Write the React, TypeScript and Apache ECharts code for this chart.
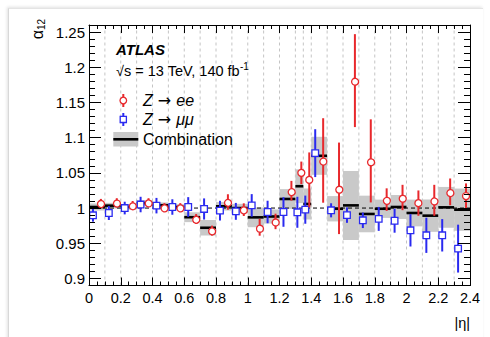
import React, { useEffect, useRef } from 'react';
import * as echarts from 'echarts';

// Bin edges in |eta|
const binLo = [0, 0.1, 0.2, 0.3, 0.4, 0.5, 0.6, 0.7, 0.8, 0.9, 1.0, 1.1, 1.2, 1.3, 1.35, 1.4, 1.5, 1.6, 1.7, 1.8, 1.9, 2.0, 2.1, 2.2, 2.3];
const binHi = [0.1, 0.2, 0.3, 0.4, 0.5, 0.6, 0.7, 0.8, 0.9, 1.0, 1.1, 1.2, 1.3, 1.35, 1.4, 1.5, 1.6, 1.7, 1.8, 1.9, 2.0, 2.1, 2.2, 2.3, 2.4];

// Z -> ee
const eeVal = [1.007, 1.008, 1.004, 1.008, 1.001, 1.001, 0.9845, 0.968, 1.0086, 0.9977, 0.9727, 0.981, 1.0246, 1.050, 1.040, 1.0676, 1.028, 1.181, 1.067, 1.012, 1.015, 1.007, 1.011, 1.023, 1.017];
const eeErr = [0.006, 0.006, 0.006, 0.006, 0.006, 0.006, 0.007, 0.007, 0.011, 0.009, 0.012, 0.011, 0.014, 0.016, 0.039, 0.06, 0.065, 0.066, 0.059, 0.016, 0.018, 0.018, 0.022, 0.019, 0.018];

// Z -> mumu
const mmVal = [0.9897, 0.993, 1.0, 1.005, 1.0034, 1.0015, 1.0015, 0.9987, 0.9963, 0.9953, 1.0038, 0.9944, 0.9944, 0.994, 0.9977, 1.078, 0.9968, 0.990, 0.9826, 0.9846, 0.982, 0.9684, 0.9613, 0.9613, 0.9424];
const mmErr = [0.009, 0.010, 0.009, 0.011, 0.011, 0.011, 0.014, 0.015, 0.014, 0.012, 0.016, 0.016, 0.021, 0.022, 0.02, 0.034, 0.01, 0.011, 0.011, 0.017, 0.017, 0.023, 0.025, 0.023, 0.034];

// Combination
const combVal = [1.0015, 1.0034, 1.0015, 1.007, 1.004, 1.0015, 0.987, 0.972, 1.0025, 1.0, 0.9868, 0.988, 1.0129, 1.031, 1.0058, 1.0742, 0.999, 1.0038, 0.9916, 0.999, 1.0015, 0.993, 0.9892, 1.001, 0.9977];
const combErr = [0.005, 0.004, 0.004, 0.004, 0.004, 0.004, 0.007, 0.011, 0.006, 0.006, 0.014, 0.01, 0.014, 0.024, 0.022, 0.027, 0.018, 0.049, 0.026, 0.013, 0.017, 0.019, 0.023, 0.029, 0.03];

const xTickValues = [0, 0.2, 0.4, 0.6, 0.8, 1, 1.2, 1.4, 1.6, 1.8, 2, 2.2, 2.4];
const xTickLabels = ['0', '0.2', '0.4', '0.6', '0.8', '1', '1.2', '1.4', '1.6', '1.8', '2', '2.2', '2.4'];
const yTickValues = [0.9, 0.95, 1, 1.05, 1.1, 1.15, 1.2, 1.25];
const yTickLabels = ['0.9', '0.95', '1', '1.05', '1.1', '1.15', '1.2', '1.25'];

const X_MIN = 0, X_MAX = 2.4, Y_MIN = 0.89, Y_MAX = 1.26;
const RED = '#e8282c';
const BLUE = '#2a2af0';
const GRAY = '#c9c9c9';
const FONT = '"Liberation Sans", Arial, Helvetica, sans-serif';
const SYMFONT = '"DejaVu Sans", sans-serif';

function lookup(values: number[], labels: string[], v: number) {
  for (let i = 0; i < values.length; i++) {
    if (Math.abs(values[i] - v) < 1e-6) return labels[i];
  }
  return '';
}

function binData(vals: number[], errs: number[]) {
  return vals.map((v, i) => [binLo[i], binHi[i], v, errs[i]]);
}

function pointSeries(name: string, vals: number[], errs: number[], color: string, marker: 'circle' | 'square', sign: number, z: number) {
  return {
    type: 'custom',
    name,
    z,
    silent: true,
    data: binData(vals, errs),
    encode: { x: [0, 1], y: 2 },
    renderItem: (params: any, api: any) => {
      const lo = api.value(0), hi = api.value(1), v = api.value(2), e = api.value(3);
      const xc = (lo + hi) / 2 + sign * (hi - lo) / 4;
      const top = api.coord([xc, v + e]);
      const bot = api.coord([xc, v - e]);
      const c = api.coord([xc, v]);
      const m = marker === 'circle'
        ? { type: 'circle', shape: { cx: c[0], cy: c[1], r: 3.5 }, style: { fill: '#fff', stroke: color, lineWidth: 1.3 } }
        : { type: 'rect', shape: { x: c[0] - 3.3, y: c[1] - 3.3, width: 6.6, height: 6.6 }, style: { fill: '#fff', stroke: color, lineWidth: 1.3 } };
      return {
        type: 'group',
        children: [
          { type: 'line', shape: { x1: top[0], y1: top[1], x2: bot[0], y2: bot[1] }, style: { stroke: color, lineWidth: 2 } },
          m,
        ],
      };
    },
  };
}

function makeXAxis(position: 'bottom' | 'top', showLabel: boolean) {
  return {
    type: 'value',
    position,
    min: X_MIN,
    max: X_MAX,
    interval: 0.2,
    z: 10,
    axisLine: { show: true, onZero: false, lineStyle: { color: '#000', width: 1 } },
    axisTick: { show: true, inside: true, length: 8, lineStyle: { color: '#000', width: 1 } },
    minorTick: { show: true, splitNumber: 4, length: 4, lineStyle: { color: '#000', width: 1 } },
    splitLine: { show: false },
    minorSplitLine: { show: false },
    axisLabel: {
      show: showLabel,
      fontSize: 14.5,
      fontFamily: FONT,
      color: '#000',
      margin: 5,
      formatter: (v: number) => lookup(xTickValues, xTickLabels, v),
    },
  };
}

function makeYAxis(position: 'left' | 'right', showLabel: boolean) {
  return {
    type: 'value',
    position,
    min: Y_MIN,
    max: Y_MAX,
    splitNumber: 7,
    z: 10,
    axisLine: { show: true, onZero: false, lineStyle: { color: '#000', width: 1 } },
    axisTick: { show: true, inside: true, length: 12, lineStyle: { color: '#000', width: 1 } },
    minorTick: { show: true, splitNumber: 5, length: 6, lineStyle: { color: '#000', width: 1 } },
    splitLine: { show: false },
    minorSplitLine: { show: false },
    axisLabel: {
      show: showLabel,
      fontSize: 15,
      fontFamily: FONT,
      color: '#000',
      margin: 4,
      formatter: (v: number) => lookup(yTickValues, yTickLabels, v),
    },
  };
}

export default function App() {
  const ref = useRef<HTMLDivElement>(null);

  useEffect(() => {
    if (!ref.current) return;
    const chart = echarts.init(ref.current, null, { renderer: 'svg' });

    const innerEdges = binHi.slice(0, binHi.length - 1).map((x) => [x]);

    const legendRich = {
      i: { fontSize: 16, fontStyle: 'italic', fontFamily: FONT, fill: '#000' },
      n: { fontSize: 16, fontFamily: SYMFONT, fill: '#000' },
    };

    const option: any = {
      animation: false,
      backgroundColor: 'transparent',
      grid: { left: 89, right: 20, top: 25, bottom: 51.5, outerBoundsMode: 'none' },
      xAxis: [makeXAxis('bottom', true), makeXAxis('top', false)],
      yAxis: [makeYAxis('left', true), makeYAxis('right', false)],
      series: [
        {
          type: 'custom',
          name: 'edges',
          z: 1,
          silent: true,
          data: innerEdges,
          encode: { x: 0 },
          renderItem: (params: any, api: any) => {
            const x = api.value(0);
            const a = api.coord([x, Y_MIN]);
            const b = api.coord([x, Y_MAX]);
            return { type: 'line', shape: { x1: a[0], y1: a[1], x2: b[0], y2: b[1] }, style: { stroke: '#c4c4c4', lineWidth: 1, lineDash: [3, 3] } };
          },
        },
        {
          type: 'custom',
          name: 'combBand',
          z: 2,
          silent: true,
          data: binData(combVal, combErr),
          encode: { x: [0, 1], y: 2 },
          renderItem: (params: any, api: any) => {
            const lo = api.value(0), hi = api.value(1), v = api.value(2), e = api.value(3);
            const a = api.coord([lo, v + e]);
            const b = api.coord([hi, v - e]);
            return { type: 'rect', shape: { x: a[0], y: a[1], width: b[0] - a[0], height: b[1] - a[1] }, style: { fill: GRAY } };
          },
        },
        {
          type: 'custom',
          name: 'unity',
          z: 3,
          silent: true,
          data: [[X_MIN, X_MAX, 1]],
          encode: { x: [0, 1], y: 2 },
          renderItem: (params: any, api: any) => {
            const a = api.coord([api.value(0), api.value(2)]);
            const b = api.coord([api.value(1), api.value(2)]);
            return { type: 'line', shape: { x1: a[0], y1: a[1], x2: b[0], y2: b[1] }, style: { stroke: '#000', lineWidth: 1, lineDash: [4, 3] } };
          },
        },
        {
          type: 'custom',
          name: 'Combination',
          z: 4,
          silent: true,
          data: binData(combVal, combErr),
          encode: { x: [0, 1], y: 2 },
          renderItem: (params: any, api: any) => {
            const lo = api.value(0), hi = api.value(1), v = api.value(2);
            const a = api.coord([lo, v]);
            const b = api.coord([hi, v]);
            return { type: 'line', shape: { x1: a[0], y1: a[1], x2: b[0], y2: b[1] }, style: { stroke: '#000', lineWidth: 2.6 } };
          },
        },
        pointSeries('Z → μμ', mmVal, mmErr, BLUE, 'square', -1, 5),
        pointSeries('Z → ee', eeVal, eeErr, RED, 'circle', 1, 6),
      ],
      graphic: [
        {
          type: 'text', x: 37, y: 29, rotation: Math.PI / 2, z: 20,
          style: {
            text: '{a|α}{s|12}', align: 'center', verticalAlign: 'middle', fill: '#000',
            rich: {
              a: { fontSize: 16, fontFamily: FONT, lineHeight: 18, fill: '#000' },
              s: { fontSize: 10, fontFamily: FONT, lineHeight: 10, verticalAlign: 'bottom', fill: '#000' },
            },
          },
        },
        {
          type: 'text', x: 470, y: 323, z: 20,
          style: { text: '|η|', fontSize: 14.5, fontFamily: FONT, fill: '#000', align: 'right', verticalAlign: 'middle' },
        },
        {
          type: 'text', x: 116, y: 49, z: 20,
          style: { text: 'ATLAS', fontSize: 15, fontWeight: 'bold', fontStyle: 'italic', fontFamily: FONT, fill: '#000', align: 'left', verticalAlign: 'middle' },
        },
        {
          type: 'text', x: 116, y: 71, z: 20,
          style: {
            text: '{n|√s = 13 TeV, 140 fb}{sup|-1}', align: 'left', verticalAlign: 'middle', fill: '#000',
            rich: {
              n: { fontSize: 14.5, fontFamily: FONT, lineHeight: 20, fill: '#000' },
              sup: { fontSize: 10, fontFamily: FONT, lineHeight: 10, verticalAlign: 'top', fill: '#000' },
            },
          },
        },
        // legend: Z -> ee
        { type: 'line', z: 20, shape: { x1: 123.3, y1: 94, x2: 123.3, y2: 107 }, style: { stroke: RED, lineWidth: 2 } },
        { type: 'circle', z: 21, shape: { cx: 123.3, cy: 100.5, r: 3.3 }, style: { fill: '#fff', stroke: RED, lineWidth: 1.3 } },
        {
          type: 'text', x: 143, y: 100.5, z: 20,
          style: { text: '{i|Z}{n| → }{i|ee}', align: 'left', verticalAlign: 'middle', rich: legendRich },
        },
        // legend: Z -> mumu
        { type: 'line', z: 20, shape: { x1: 123.3, y1: 113, x2: 123.3, y2: 126 }, style: { stroke: BLUE, lineWidth: 2 } },
        { type: 'rect', z: 21, shape: { x: 120.2, y: 116.3, width: 6.2, height: 6.2 }, style: { fill: '#fff', stroke: BLUE, lineWidth: 1.3 } },
        {
          type: 'text', x: 143, y: 119.5, z: 20,
          style: { text: '{i|Z}{n| → }{i|μμ}', align: 'left', verticalAlign: 'middle', rich: legendRich },
        },
        // legend: Combination
        { type: 'rect', z: 20, shape: { x: 113.3, y: 132, width: 25, height: 14.5 }, style: { fill: GRAY } },
        { type: 'line', z: 21, shape: { x1: 113.3, y1: 139.3, x2: 138.3, y2: 139.3 }, style: { stroke: '#000', lineWidth: 2.6 } },
        {
          type: 'text', x: 143, y: 139.3, z: 20,
          style: { text: 'Combination', fontSize: 16, fontFamily: FONT, fill: '#000', align: 'left', verticalAlign: 'middle' },
        },
      ],
    };

    chart.setOption(option);
    return () => chart.dispose();
  }, []);

  return (
    <div style={{ position: 'fixed', left: 0, top: 0, width: 490, height: 337, background: '#fff', overflow: 'hidden' }}>
      <div
        style={{
          position: 'absolute', left: 8, top: 8, width: 474, height: 345,
          borderLeft: '1px solid #d8d8d8', borderTop: '1px solid #e4e4e4',
          boxShadow: '-1px -1px 3px rgba(0,0,0,0.12)',
        }}
      />
      <div ref={ref} style={{ position: 'absolute', left: 0, top: 0, width: 490, height: 337 }} />
    </div>
  );
}
